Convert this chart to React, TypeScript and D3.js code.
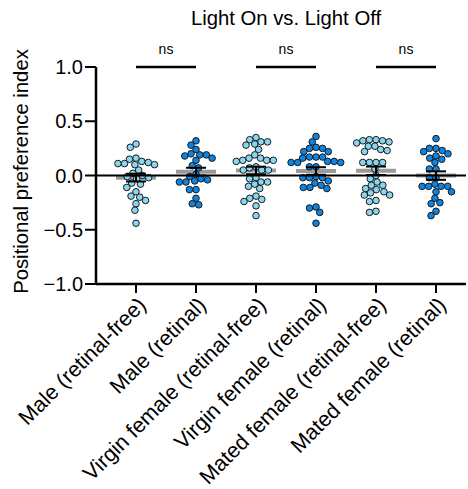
import * as d3 from 'd3';

const groups = [
  'Male (retinal-free)',
  'Male (retinal)',
  'Virgin female (retinal-free)',
  'Virgin female (retinal)',
  'Mated female (retinal-free)',
  'Mated female (retinal)',
];

const maleFree = [0.29, 0.26, 0.16, 0.15, 0.13, 0.12, 0.11, 0.11, 0.10, 0.10, 0.05, 0.02, 0.0, -0.01, -0.02, -0.03, -0.07, -0.08, -0.11, -0.15, -0.19, -0.20, -0.23, -0.26, -0.32, -0.44];
const maleRetinal = [0.32, 0.28, 0.24, 0.20, 0.19, 0.19, 0.18, 0.16, 0.14, 0.09, 0.07, 0.01, -0.01, -0.03, -0.04, -0.05, -0.06, -0.06, -0.13, -0.13, -0.21, -0.26, -0.27];
const virginFree = [0.35, 0.33, 0.31, 0.31, 0.29, 0.28, 0.24, 0.19, 0.16, 0.16, 0.14, 0.14, 0.14, 0.13, 0.08, 0.07, 0.05, 0.05, 0.05, -0.02, -0.03, -0.06, -0.06, -0.08, -0.10, -0.12, -0.19, -0.21, -0.22, -0.24, -0.28, -0.37];
const virginRetinal = [0.36, 0.31, 0.26, 0.25, 0.25, 0.22, 0.22, 0.17, 0.17, 0.17, 0.16, 0.13, 0.13, 0.12, 0.12, 0.12, 0.08, 0.08, -0.01, -0.02, -0.02, -0.02, -0.05, -0.07, -0.09, -0.11, -0.11, -0.12, -0.29, -0.30, -0.34, -0.44];
const matedFree = [0.33, 0.33, 0.32, 0.32, 0.31, 0.30, 0.27, 0.27, 0.24, 0.23, 0.22, 0.12, 0.12, 0.12, 0.12, 0.06, 0.0, -0.03, -0.06, -0.09, -0.09, -0.12, -0.13, -0.15, -0.16, -0.18, -0.18, -0.23, -0.24, -0.33, -0.34];
const matedRetinal = [0.34, 0.25, 0.25, 0.23, 0.22, 0.20, 0.18, 0.16, 0.15, 0.12, 0.06, 0.06, -0.02, -0.02, -0.08, -0.10, -0.10, -0.10, -0.10, -0.15, -0.15, -0.21, -0.25, -0.26, -0.33, -0.37];

const series = [maleFree, maleRetinal, virginFree, virginRetinal, matedFree, matedRetinal];
const retinal = [false, true, false, true, false, true];

const yTicks = [-1.0, -0.5, 0.0, 0.5, 1.0];
const comparisons = [[0, 1], [2, 3], [4, 5]];
const compLabels = ['ns', 'ns', 'ns'];

const width = 468;
const height = 489;
const font = 'Arial, "Liberation Sans", Helvetica, sans-serif';

// simple beeswarm: place each dot as close to the centre as it fits
function swarm(values: number[], y: (v: number) => number, r: number) {
  const d = 2 * r;
  const order = d3.range(values.length).sort((a, b) => values[b] - values[a]);
  const placed: { x: number; y: number }[] = [];
  const xs: number[] = new Array(values.length);
  for (const i of order) {
    const py = y(values[i]);
    const bounds: [number, number][] = [];
    for (const p of placed) {
      const dy = Math.abs(p.y - py);
      if (dy < d) {
        const w = Math.sqrt(d * d - dy * dy);
        bounds.push([p.x - w, p.x + w]);
      }
    }
    const cands = [0, ...bounds.flatMap(b => [b[0], b[1]])].sort((a, b) => Math.abs(a) - Math.abs(b));
    let best = 0;
    for (const c of cands) {
      if (bounds.every(b => c <= b[0] + 1e-6 || c >= b[1] - 1e-6)) { best = c; break; }
    }
    xs[i] = best;
    placed.push({ x: best, y: py });
  }
  return xs;
}

export default function App() {
  const x0 = 96, x1 = 466;
  const y = d3.scaleLinear().domain([-1, 1]).range([284, 67]);
  const x = d3.scaleBand().domain(groups).range([106, 466]);
  const cx = (g: string) => (x(g) as number) + x.bandwidth() / 2;
  const r = 3.3;

  return (
    <svg width={width} height={height} style={{ position: 'absolute', left: 0, top: 0, background: '#fff' }} fontFamily={font}>
      <text x={286} y={25} textAnchor="middle" fontSize={20.3}>Light On vs. Light Off</text>

      {/* y axis */}
      <text transform={`translate(28,${(y(1) + y(-1)) / 2 - 4}) rotate(-90)`} textAnchor="middle" fontSize={20.3}>
        Positional preference index
      </text>
      <line x1={x0} x2={x0} y1={y(1)} y2={y(-1) + 1} stroke="#000" strokeWidth={2.5} />
      {yTicks.map(t => (
        <g key={t}>
          <line x1={x0 - 11} x2={x0} y1={y(t)} y2={y(t)} stroke="#000" strokeWidth={2} />
          <text x={x0 - 13} y={y(t)} dy="0.36em" textAnchor="end" fontSize={20}>{d3.format('.1f')(t)}</text>
        </g>
      ))}

      {/* x axis */}
      <line x1={x0} x2={x1} y1={y(-1)} y2={y(-1)} stroke="#000" strokeWidth={2.5} />
      {groups.map(g => (
        <g key={g}>
          <line x1={cx(g)} x2={cx(g)} y1={y(-1)} y2={y(-1) + 9} stroke="#000" strokeWidth={2} />
          <text transform={`translate(${cx(g) + 6},${y(-1) + 17}) rotate(-45)`} textAnchor="end" dy="0.35em" fontSize={21.5}>{g}</text>
        </g>
      ))}

      {/* dots, means and SEM */}
      {series.map((vals, gi) => {
        const g = groups[gi];
        const c = cx(g);
        const xs = swarm(vals, y, r);
        const m = d3.mean(vals) as number;
        const sem = (d3.deviation(vals) as number) / Math.sqrt(vals.length);
        return (
          <g key={g}>
            <line x1={c - 20} x2={c + 20} y1={y(m)} y2={y(m)} stroke="#9a9a9a" strokeWidth={4} />
            {vals.map((v, i) => (
              <circle key={i} cx={c + xs[i]} cy={y(v)} r={r} fill={retinal[gi] ? '#0b84e4' : '#8ad6f1'} stroke="#1a1a1a" strokeWidth={1} />
            ))}
            <line x1={c} x2={c} y1={y(m - sem)} y2={y(m + sem)} stroke="#000" strokeWidth={2} />
            <line x1={c - 10} x2={c + 10} y1={y(m + sem)} y2={y(m + sem)} stroke="#000" strokeWidth={2} />
            <line x1={c - 10} x2={c + 10} y1={y(m - sem)} y2={y(m - sem)} stroke="#000" strokeWidth={2} />
          </g>
        );
      })}

      {/* zero line */}
      <line x1={x0} x2={x1} y1={y(0)} y2={y(0)} stroke="#000" strokeWidth={2.2} />

      {/* comparison brackets */}
      {comparisons.map((p, i) => {
        const a = cx(groups[p[0]]), b = cx(groups[p[1]]);
        return (
          <g key={i}>
            <line x1={a} x2={b} y1={y(1)} y2={y(1)} stroke="#000" strokeWidth={2.5} />
            <text x={(a + b) / 2} y={y(1) - 13} textAnchor="middle" fontSize={14}>{compLabels[i]}</text>
          </g>
        );
      })}
    </svg>
  );
}
